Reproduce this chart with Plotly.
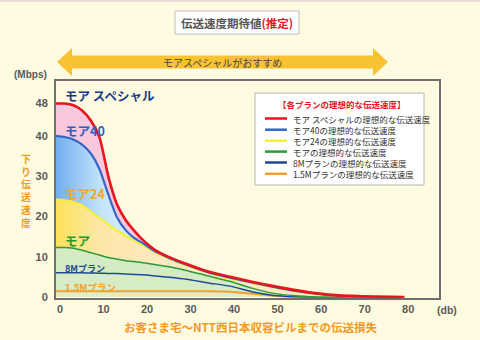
import plotly.graph_objects as go

# ---- data -------------------------------------------------------------
loss_db = [0, 2, 4, 6, 8, 10, 12, 14, 16, 18, 20, 23, 26, 30, 35, 40, 45, 50, 55, 60, 65, 70, 75, 80]

speed_special = [48, 48, 47.6, 46.3, 43.8, 39.6, 30.0, 23.0, 19.1, 16.4, 14.1, 11.5, 9.9, 8.2, 6.3, 5.0, 3.8, 2.7, 1.7, 0.9, 0.4, 0.2, 0.05, 0]
speed_40 = [40, 39.7, 39.1, 37.8, 35.6, 31.7, 25.5, 19.8, 16.6, 14.6, 13.3, 11.2, 9.7, 8.0, 6.1, 4.8, 3.6, 2.5, 1.5, 0.8, 0.3, 0.1, 0.02, 0]
speed_24 = [24.2, 24.0, 23.6, 22.8, 21.2, 19.6, 18.0, 16.5, 15.2, 14.0, 12.8, 10.9, 9.5, 7.8, 6.0, 4.6, 3.5, 2.4, 1.4, 0.7, 0.3, 0.1, 0.01, 0]
speed_more = [12.3, 12.3, 12.1, 11.6, 11.0, 10.4, 9.8, 9.4, 9.0, 8.8, 8.5, 8.0, 7.5, 6.6, 5.2, 3.9, 2.2, 0.9, 0.3, 0, 0, 0, 0, 0]
speed_8m = [6.0, 6.0, 6.0, 6.0, 5.95, 5.9, 5.85, 5.8, 5.7, 5.6, 5.5, 5.2, 4.9, 4.4, 3.5, 2.7, 1.3, 0.4, 0.1, 0, 0, 0, 0, 0]
speed_1_5m = [1.4, 1.4, 1.4, 1.4, 1.4, 1.4, 1.4, 1.4, 1.4, 1.4, 1.4, 1.4, 1.4, 1.4, 1.4, 1.3, 0.8, 0.3, 0, 0, 0, 0, 0, 0]

x_ticks = [0, 10, 20, 30, 40, 50, 60, 70, 80]
y_ticks = [0, 10, 20, 30, 40, 48]

plan_labels = ["モア スペシャル", "モア40", "モア24", "モア", "8Mプラン", "1.5Mプラン"]
legend_labels = [
    "モア スペシャルの理想的な伝送速度",
    "モア40の理想的な伝送速度",
    "モア24の理想的な伝送速度",
    "モアの理想的な伝送速度",
    "8Mプランの理想的な伝送速度",
    "1.5Mプランの理想的な伝送速度",
]
line_colors = ["#e8141e", "#3566c8", "#f3ef3c", "#2a9a38", "#1d4a92", "#f2a030"]

# ---- layout geometry (pixels) ----------------------------------------
W, H = 480, 340
L, R, T, B = 56, 439, 81, 298
JP = "Noto Sans CJK JP"
BG = "#fefbe0"


def xp(px):
    return (px - L) / (R - L)


def yp(py):
    return (B - py) / (B - T)


fig = go.Figure()

# stacked bands, bottom to top
fig.add_trace(go.Scatter(x=loss_db, y=speed_1_5m, mode="lines", fill="tozeroy",
                         fillcolor="#e2ecc6", line=dict(color=line_colors[5], width=2, shape="spline", smoothing=0.6)))
fig.add_trace(go.Scatter(x=loss_db, y=speed_8m, mode="lines", fill="tonexty",
                         fillcolor="#d6ecc6", line=dict(color=line_colors[4], width=1.5, shape="spline", smoothing=0.6)))
fig.add_trace(go.Scatter(x=loss_db, y=speed_more, mode="lines", fill="tonexty",
                         fillcolor="#d5ebc3", line=dict(color=line_colors[3], width=1.5, shape="spline", smoothing=0.6)))
fig.add_trace(go.Scatter(x=loss_db, y=speed_24, mode="lines", fill="tonexty",
                         fillgradient=dict(type="horizontal",
                                           colorscale=[[0, "#fde25a"], [0.12, "#fde7a6"], [0.3, "#fde9c2"], [1, "#fde9c2"]]),
                         line=dict(color=line_colors[2], width=2.2, shape="spline", smoothing=0.6)))
fig.add_trace(go.Scatter(x=loss_db, y=speed_40, mode="lines", fill="tonexty",
                         fillgradient=dict(type="horizontal",
                                           colorscale=[[0, "#72aeee"], [0.13, "#c4e4fa"], [0.28, "#e8f9ff"], [1, "#e8f9ff"]]),
                         line=dict(color=line_colors[1], width=2.2, shape="spline", smoothing=0.6)))
fig.add_trace(go.Scatter(x=loss_db, y=speed_special, mode="lines", fill="tonexty",
                         fillcolor="#f9c8dc",
                         line=dict(color=line_colors[0], width=2.6, shape="spline", smoothing=0.6)))

axis_font = dict(family="Liberation Sans", size=11, color="#5a5a5a")

fig.update_layout(
    width=W, height=H,
    margin=dict(l=L, r=W - R, t=T, b=H - B),
    paper_bgcolor=BG, plot_bgcolor=BG,
    showlegend=False,
    xaxis=dict(range=[0, 88], tickvals=x_ticks, ticktext=[f"<b>{v}</b>" for v in x_ticks],
               tickfont=axis_font, ticklabelshift=4, ticks="", showgrid=False, zeroline=False,
               showline=True, linecolor="#6f6f6f", linewidth=2, mirror=True, fixedrange=True),
    yaxis=dict(range=[-0.25, 53.6], tickvals=y_ticks, ticktext=[f"<b>{v}</b>" for v in y_ticks],
               tickfont=axis_font, ticks="", showgrid=False, zeroline=False, ticklabelstandoff=4,
               showline=True, linecolor="#6f6f6f", linewidth=2, mirror=True, fixedrange=True),
)

shapes = []
annotations = []


def text(px, py, s, size, color, anchor="center", family=JP, bold=True):
    annotations.append(dict(
        x=xp(px), y=yp(py), xref="paper", yref="paper", showarrow=False,
        text=f"<b>{s}</b>" if bold else s, xanchor=anchor, yanchor="middle",
        font=dict(family=family, size=size, color=color)))


# thin border strip at the top of the page
shapes.append(dict(type="rect", xref="paper", yref="paper", x0=xp(0), x1=xp(W), y0=yp(0), y1=yp(2),
                   fillcolor="#e2dfd2", line=dict(width=0), layer="below"))

# heading box
shapes.append(dict(type="rect", xref="paper", yref="paper", x0=xp(175), x1=xp(299), y0=yp(34), y1=yp(11),
                   fillcolor="white", line=dict(color="#bdbdbd", width=1)))
text(237, 23, "伝送速度期待値<span style='color:#e8141e'>(推定)</span>", 11.5, "#555555")

# recommendation double arrow
arrow_pts = [(57, 62), (72, 48), (72, 55.5), (373, 55.5), (373, 48), (388, 62),
             (373, 76), (373, 68.5), (72, 68.5), (72, 76)]
path = "M " + " L ".join(f"{xp(a):.5f},{yp(b):.5f}" for a, b in arrow_pts) + " Z"
shapes.append(dict(type="path", xref="paper", yref="paper", path=path,
                   fillcolor="#f8c232", line=dict(width=0)))
text(222, 62, "モアスペシャルがおすすめ", 10, "#444444", bold=False)

# axis captions
text(31, 75, "(Mbps)", 10, "#5a5a5a", family="Liberation Sans")
text(447, 310, "(db)", 10.5, "#5a5a5a", family="Liberation Sans")
text(26, 191, "<br>".join("下り伝送速度"), 9.8, "#f39a1e")
text(250, 327, "お客さま宅～NTT西日本収容ビルまでの伝送損失", 11.5, "#f39a1e")

# plan names beside the curves
label_specs = [(95, 12.5, "#1b3a8c"), (130, 12.5, "#2f5fc2"), (193, 12.5, "#f5a623"),
               (240, 12.5, "#1f9a2e"), (268.5, 9, "#1d4a92"), (286.5, 9.5, "#f2a030")]
for name, (py, size, color) in zip(plan_labels, label_specs):
    text(63, py, name, size, color, anchor="left")

# legend panel
shapes.append(dict(type="rect", xref="paper", yref="paper", x0=xp(255), x1=xp(424), y0=yp(185), y1=yp(93),
                   fillcolor="white", line=dict(color="#b5b5b5", width=1)))
text(342, 103.5, "【各プランの理想的な伝送速度】", 8.5, "#e8141e")
row_y = [118.5, 129.7, 140.8, 151.6, 162.5, 173.8]
for ry, label, color in zip(row_y, legend_labels, line_colors):
    shapes.append(dict(type="line", xref="paper", yref="paper", x0=xp(265), x1=xp(287), y0=yp(ry), y1=yp(ry),
                       line=dict(color=color, width=2.5)))
    text(291, ry, label, 8.5, "#333333", anchor="left", bold=False)

fig.update_layout(shapes=shapes, annotations=annotations)
fig.write_html("out.html")
